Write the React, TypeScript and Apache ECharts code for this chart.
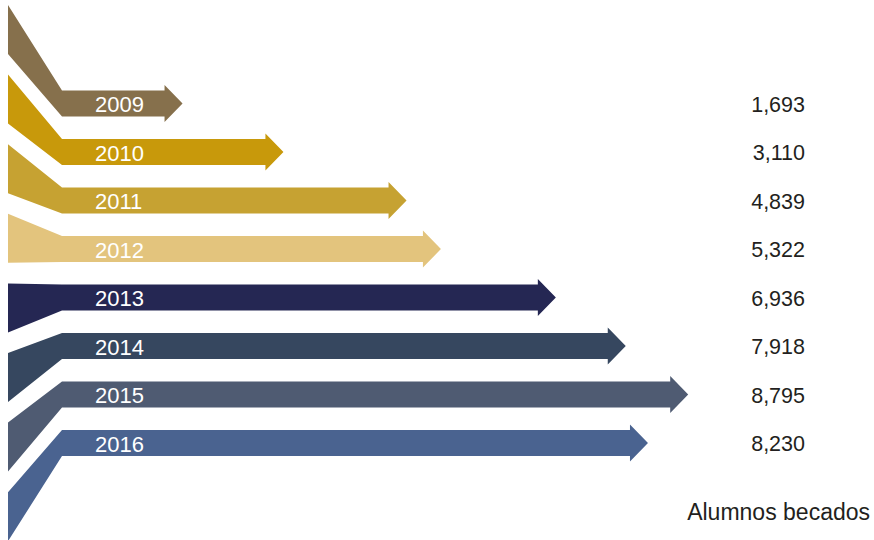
import React, { useEffect, useRef } from "react";
import * as echarts from "echarts";

const years = ["2009", "2010", "2011", "2012", "2013", "2014", "2015", "2016"];
const values = [1693, 3110, 4839, 5322, 6936, 7918, 8795, 8230];
const colors = [
  "#86704c",
  "#c8990b",
  "#c6a232",
  "#e3c47d",
  "#252753",
  "#36475f",
  "#4f5b72",
  "#4a6390",
];
const unitLabel = "Alumnos becados";

const FONT = "'Liberation Sans', Arial, Helvetica, sans-serif";

export default function App() {
  const ref = useRef<HTMLDivElement>(null);

  useEffect(() => {
    if (!ref.current) return;
    const chart = echarts.init(ref.current, null, { renderer: "svg" });

    const option: any = {
      animation: false,
      backgroundColor: "#ffffff",
      grid: { left: 62, right: 100, top: 79.25, bottom: 72.75 },
      xAxis: {
        type: "value",
        min: 0,
        max: 10000,
        show: false,
      },
      yAxis: {
        type: "category",
        data: years,
        inverse: true,
        show: false,
      },
      graphic: [
        {
          type: "text",
          right: 4,
          top: 500,
          style: {
            text: unitLabel,
            fill: "#231f20",
            fontSize: 23,
            fontFamily: FONT,
          },
        },
      ],
      series: [
        {
          type: "custom",
          clip: false,
          encode: { x: 0, y: 1 },
          data: values.map((v, i) => [v, i]),
          renderItem: (params: any, api: any) => {
            const i = params.dataIndex;
            const v = api.value(0);
            const tip = api.coord([v, i]);
            const base = api.coord([0, i]);
            const step = api.size([0, 1])[1];
            const cy = tip[1];
            const half = step * 0.27;
            const headHalf = half + 5.5;
            const headLen = 18;
            const x0 = base[0];
            const xl = x0 - 54;
            const fTop = 5 + i * 69.6;
            const fBot = fTop + 49;
            const tipX = tip[0];
            const hb = tipX - headLen;
            const points = [
              [xl, fTop],
              [x0, cy - half],
              [hb, cy - half],
              [hb, cy - headHalf],
              [tipX, cy],
              [hb, cy + headHalf],
              [hb, cy + half],
              [x0, cy + half],
              [xl, fBot],
            ];
            return {
              type: "group",
              children: [
                {
                  type: "polygon",
                  shape: { points },
                  style: { fill: colors[i] },
                },
                {
                  type: "text",
                  style: {
                    text: years[i],
                    x: x0 + 33,
                    y: cy + 1,
                    fill: "#ffffff",
                    fontSize: 22,
                    fontFamily: FONT,
                    align: "left",
                    verticalAlign: "middle",
                  },
                },
                {
                  type: "text",
                  style: {
                    text: v.toLocaleString("en-US"),
                    x: 805,
                    y: cy + 1,
                    fill: "#231f20",
                    fontSize: 21.5,
                    fontFamily: FONT,
                    align: "right",
                    verticalAlign: "middle",
                  },
                },
              ],
            };
          },
        },
      ],
    };

    chart.setOption(option);
    return () => chart.dispose();
  }, []);

  return (
    <div
      ref={ref}
      style={{ position: "absolute", left: 0, top: 0, width: 874, height: 540 }}
    />
  );
}
